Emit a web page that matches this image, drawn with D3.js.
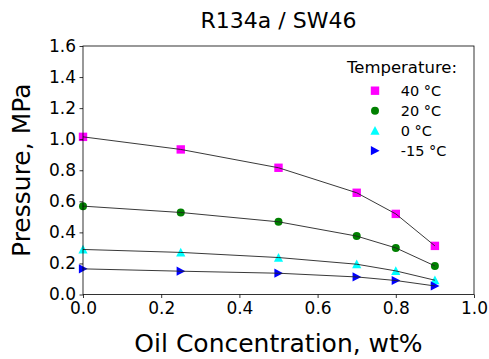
<!DOCTYPE html>
<html><head><meta charset="utf-8">
<script src="https://cdn.jsdelivr.net/npm/d3@7"></script>
<style>body{margin:0;background:#fff}svg{display:block}text{font-family:"DejaVu Sans",sans-serif;fill:#000}</style>
</head><body><svg id="c" width="489" height="359"></svg>
<script>
const oilConc = [0, 0.25, 0.5, 0.7, 0.8, 0.9];
const p40 = [1.015, 0.934, 0.816, 0.655, 0.519, 0.313];
const p20 = [0.569, 0.528, 0.468, 0.376, 0.300, 0.184];
const p0 = [0.290, 0.271, 0.238, 0.195, 0.152, 0.092];
const pm15 = [0.165, 0.150, 0.137, 0.113, 0.090, 0.055];
const seriesNames = ["40 °C", "20 °C", "0 °C", "-15 °C"];
const xTicks = [0, 0.2, 0.4, 0.6, 0.8, 1.0];
const yTicks = [0, 0.2, 0.4, 0.6, 0.8, 1.0, 1.2, 1.4, 1.6];

const series = [
  {name: seriesNames[0], vals: p40, color: "#ff00ff", shape: "square"},
  {name: seriesNames[1], vals: p20, color: "#008000", shape: "circle"},
  {name: seriesNames[2], vals: p0, color: "#00ffff", shape: "triup"},
  {name: seriesNames[3], vals: pm15, color: "#0000ff", shape: "triright"}
];

const svg = d3.select("#c");
const L = 83, R = 474, T = 46, B = 294.5;
const x = d3.scaleLinear().domain([0, 1]).range([L, R]);
const y = d3.scaleLinear().domain([0, 1.6]).range([B, T]);

function marker(g, shape, color, cx, cy) {
  if (shape === "square") {
    g.append("rect").attr("x", cx - 4.2).attr("y", cy - 4.2).attr("width", 8.4).attr("height", 8.4).attr("fill", color);
  } else if (shape === "circle") {
    g.append("circle").attr("cx", cx).attr("cy", cy).attr("r", 4).attr("fill", color);
  } else if (shape === "triup") {
    const s = 4.6;
    g.append("path").attr("d", `M${cx},${cy - s}L${cx + s},${cy + s * 0.9}L${cx - s},${cy + s * 0.9}Z`).attr("fill", color);
  } else {
    const s = 4.6;
    g.append("path").attr("d", `M${cx + s},${cy}L${cx - s * 0.9},${cy - s}L${cx - s * 0.9},${cy + s}Z`).attr("fill", color);
  }
}

// markers
const mg = svg.append("g");
series.forEach(s => {
  s.vals.forEach((v, i) => marker(mg, s.shape, s.color, x(oilConc[i]), y(v)));
});
// lines
const line = d3.line().x((d, i) => x(oilConc[i])).y(d => y(d));
series.forEach(s => {
  svg.append("path").attr("d", line(s.vals)).attr("fill", "none").attr("stroke", "#222").attr("stroke-width", 0.9);
});

// axes
const xa = svg.append("g").attr("transform", `translate(0,${B})`)
  .call(d3.axisBottom(x).tickValues(xTicks).tickFormat(d3.format(".1f")).tickSizeInner(3.5).tickSizeOuter(0).tickPadding(3.5));
const ya = svg.append("g").attr("transform", `translate(${L},0)`)
  .call(d3.axisLeft(y).tickValues(yTicks).tickFormat(d3.format(".1f")).tickSizeInner(3.5).tickSizeOuter(0).tickPadding(3.5));
[xa, ya].forEach(a => {
  a.selectAll("text").style("font-size", "17px").style("font-family", "DejaVu Sans");
  a.selectAll("line").attr("stroke", "#000").attr("stroke-width", 0.8);
  a.select(".domain").remove();
});
svg.append("rect").attr("x", L).attr("y", T).attr("width", R - L).attr("height", B - T)
  .attr("fill", "none").attr("stroke", "#000").attr("stroke-width", 0.8);

// titles
svg.append("text").attr("x", (L + R) / 2).attr("y", 28).attr("text-anchor", "middle").style("font-size", "22px").text("R134a / SW46");
svg.append("text").attr("x", (L + R) / 2).attr("y", 352).attr("text-anchor", "middle").style("font-size", "25px").text("Oil Concentration, wt%");
svg.append("text").attr("transform", `translate(30,${(T + B) / 2}) rotate(-90)`).attr("text-anchor", "middle").style("font-size", "25px").text("Pressure, MPa");

// legend
svg.append("text").attr("x", 402).attr("y", 73.3).attr("text-anchor", "middle").style("font-size", "16.5px").text("Temperature:");
series.forEach((s, i) => {
  const ry = 90.7 + i * 20;
  marker(svg, s.shape, s.color, 375, ry);
  svg.append("text").attr("x", 400.7).attr("y", ry).attr("dominant-baseline", "central").style("font-size", "14.5px").text(s.name);
});
</script></body></html>
